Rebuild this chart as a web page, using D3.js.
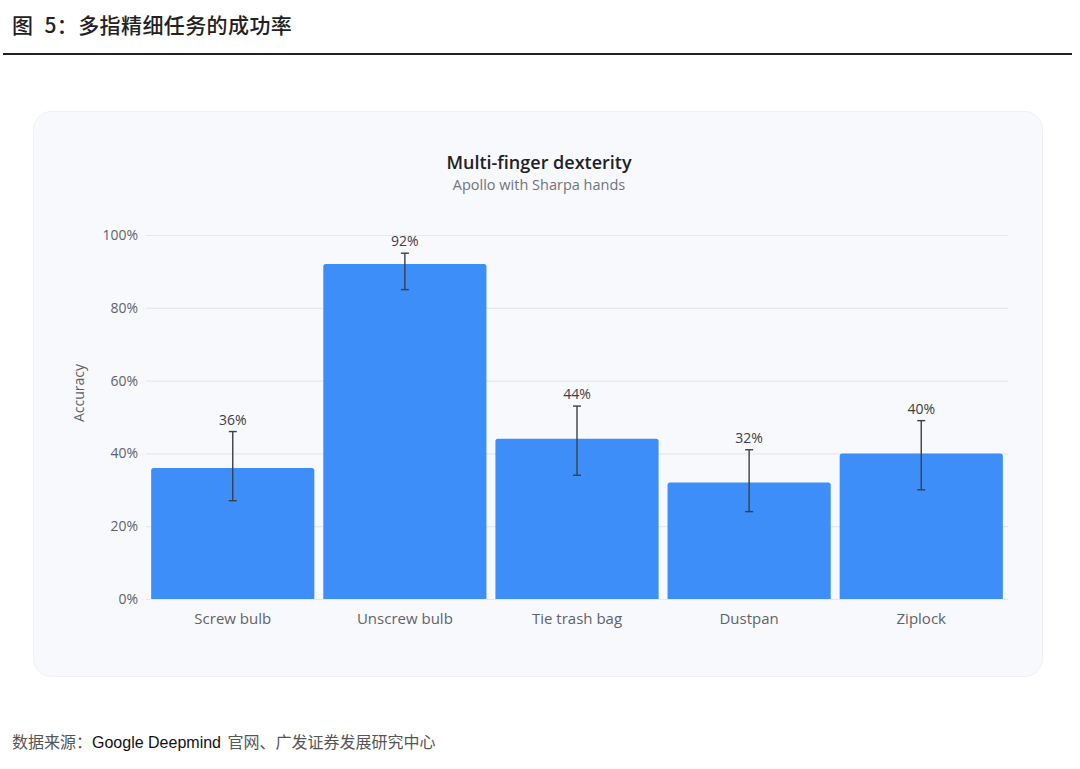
<!DOCTYPE html>
<html>
<head>
<meta charset="utf-8">
<script src="https://cdn.jsdelivr.net/npm/d3@7"></script>
<style>
  html, body { margin: 0; padding: 0; background: #fff; }
  svg { display: block; }
</style>
</head>
<body>
<div class="chart"></div>
<script>
// DATA
// ----------------------------
const tasks = ['Screw bulb', 'Unscrew bulb', 'Tie trash bag', 'Dustpan', 'Ziplock']
const accuracy = [36, 92, 44, 32, 40]
const errLow = [27, 85, 34, 24, 30]
const errHigh = [46, 95, 53, 41, 49]
const yTicks = [0, 20, 40, 60, 80, 100]

const data = tasks.map((t, i) => ({ task: t, value: accuracy[i], lo: errLow[i], hi: errHigh[i] }))

// SETUP
// ----------------------------
const fullWidth = 1080
const fullHeight = 769
const plot = { left: 146, right: 1008, top: 235, bottom: 599 }
const sans = '"Open Sans", Roboto, sans-serif'
const cjk = '"Noto Sans CJK SC", "Noto Sans", sans-serif'

const svg = d3.select('.chart')
  .append('svg')
    .attr('width', fullWidth)
    .attr('height', fullHeight)
    .attr('viewBox', `0 0 ${fullWidth} ${fullHeight}`)

// page header + rule
const head = svg.append('text')
  .attr('x', 12)
  .attr('y', 33)
  .style('font-family', cjk)
  .style('font-size', '21px')
  .style('font-weight', 500)
  .style('letter-spacing', '0.4px')
  .style('fill', '#222')
head.append('tspan').text('图')
head.append('tspan').attr('dx', 11).text('5：多指精细任务的成功率')

svg.append('line')
  .attr('x1', 3).attr('x2', 1072)
  .attr('y1', 54).attr('y2', 54)
  .style('stroke', '#222')
  .style('stroke-width', 2)

// card
svg.append('rect')
  .attr('x', 33.5).attr('y', 111.5)
  .attr('width', 1009).attr('height', 565)
  .attr('rx', 18)
  .style('fill', '#f8f9fc')
  .style('stroke', '#eef0f3')

// titles
svg.append('text')
  .attr('x', 539).attr('y', 169)
  .attr('text-anchor', 'middle')
  .style('font-family', sans)
  .style('font-size', '18px')
  .style('font-weight', 600)
  .style('fill', '#202124')
  .text('Multi-finger dexterity')

svg.append('text')
  .attr('x', 539).attr('y', 190)
  .attr('text-anchor', 'middle')
  .style('font-family', sans)
  .style('font-size', '14.5px')
  .style('fill', '#70757a')
  .text('Apollo with Sharpa hands')

// Y SCALE and AXIS
// ----------------------------
const yScale = d3.scaleLinear()
  .domain([0, 100])
  .range([plot.bottom, plot.top])

const yAxis = d3.axisLeft(yScale)
  .tickValues(yTicks)
  .tickFormat(d => d + '%')
  .tickSize(plot.left - plot.right)
  .tickPadding(8)

const yg = svg.append('g')
  .attr('transform', `translate(${plot.left}, 0)`)
  .call(yAxis)
yg.select('.domain').remove()
yg.selectAll('.tick line').style('stroke', '#e6e8ec').style('stroke-width', 1.2)
yg.selectAll('.tick text')
  .attr('x', -8)
  .style('font-family', sans)
  .style('font-size', '14px')
  .style('fill', '#5f6368')

svg.append('text')
  .attr('transform', `translate(84, ${(plot.top + plot.bottom) / 2 - 24}) rotate(-90)`)
  .attr('text-anchor', 'middle')
  .style('font-family', sans)
  .style('font-size', '14px')
  .style('fill', '#5f6368')
  .text('Accuracy')

// X SCALE and AXIS
// ----------------------------
const xScale = d3.scaleBand()
  .domain(tasks)
  .range([plot.left, plot.right])
  .paddingInner(0.052)
  .paddingOuter(0.03)

const xAxis = d3.axisBottom(xScale)
  .tickSize(0)
  .tickPadding(14)

const xg = svg.append('g')
  .attr('transform', `translate(0, ${plot.bottom})`)
  .call(xAxis)
xg.select('.domain').remove()
xg.selectAll('.tick text')
  .style('font-family', sans)
  .style('font-size', '15px')
  .style('fill', '#5f6368')

// BAR CHART
// ----------------------------
svg.selectAll('path.bar')
  .data(data)
  .enter()
  .append('path')
  .attr('class', 'bar')
  .attr('d', d => {
    const x0 = xScale(d.task), w = xScale.bandwidth()
    const y0 = yScale(d.value), y1 = yScale(0), r = 2.5
    return `M${x0},${y1}V${y0 + r}Q${x0},${y0} ${x0 + r},${y0}H${x0 + w - r}Q${x0 + w},${y0} ${x0 + w},${y0 + r}V${y1}Z`
  })
  .style('fill', '#3d8ef8')

// error bars
const eb = svg.selectAll('g.err')
  .data(data)
  .enter()
  .append('g')
  .attr('class', 'err')
  .attr('transform', d => `translate(${xScale(d.task) + xScale.bandwidth() / 2}, 0)`)
  .style('stroke', '#3c4043')
  .style('stroke-width', 1.4)

eb.append('line')
  .attr('y1', d => yScale(d.lo)).attr('y2', d => yScale(d.hi))
eb.append('line')
  .attr('x1', -4).attr('x2', 4)
  .attr('y1', d => yScale(d.hi)).attr('y2', d => yScale(d.hi))
eb.append('line')
  .attr('x1', -4).attr('x2', 4)
  .attr('y1', d => yScale(d.lo)).attr('y2', d => yScale(d.lo))

// value labels
svg.selectAll('text.val')
  .data(data)
  .enter()
  .append('text')
  .attr('class', 'val')
  .attr('x', d => xScale(d.task) + xScale.bandwidth() / 2)
  .attr('y', d => yScale(d.hi) - 7)
  .attr('text-anchor', 'middle')
  .style('font-family', sans)
  .style('font-size', '14px')
  .style('fill', '#3c4043')
  .text(d => d.value + '%')

// source note
const src = svg.append('text')
  .attr('x', 12).attr('y', 748)
  .style('font-size', '16px')
src.append('tspan').style('font-family', cjk).style('fill', '#555').text('数据来源：')
src.append('tspan').style('font-family', '"Liberation Sans", Arial, sans-serif').style('fill', '#111').text('Google Deepmind')
src.append('tspan').attr('dx', 3).style('font-family', cjk).style('fill', '#555').text(' 官网、广发证券发展研究中心')
</script>
</body>
</html>
